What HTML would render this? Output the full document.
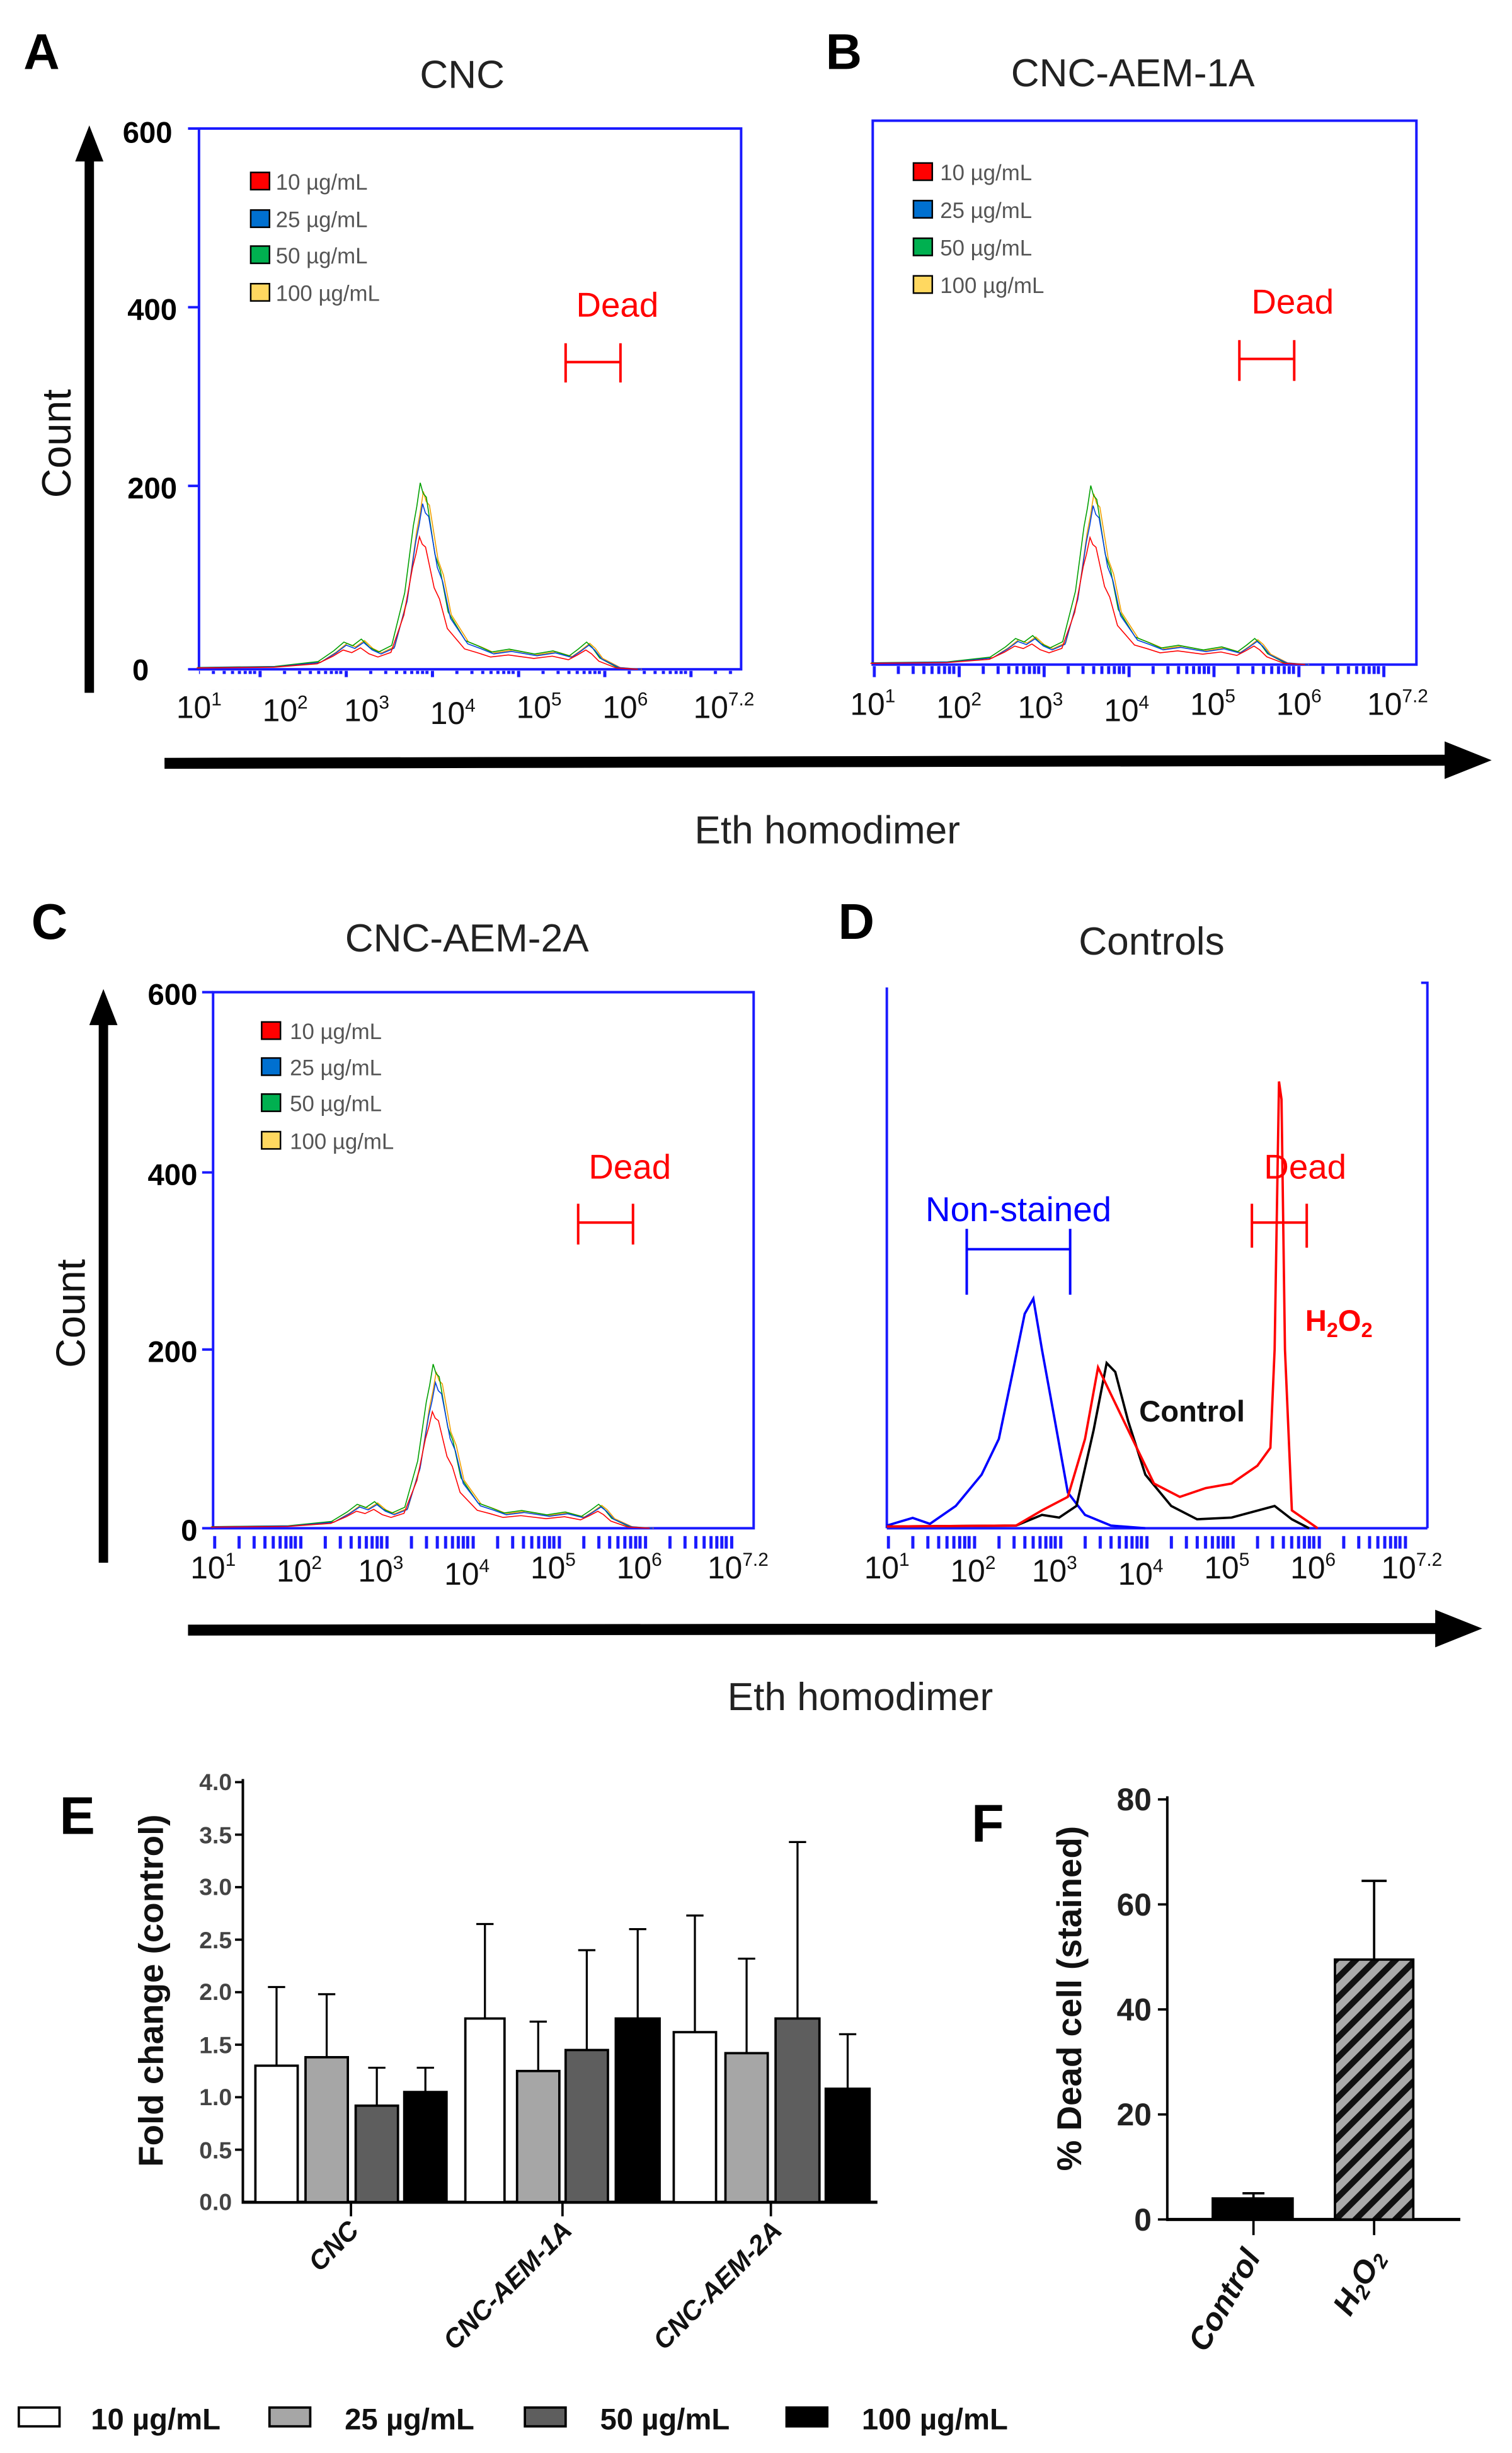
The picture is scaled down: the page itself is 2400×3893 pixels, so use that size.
<!DOCTYPE html>
<html><head><meta charset="utf-8"><style>
html,body{margin:0;padding:0;background:#fff;}
svg{display:block;}
text{font-family:"Liberation Sans",sans-serif;}
</style></head><body>
<svg width="2400" height="3893" viewBox="0 0 965 1565" preserveAspectRatio="none" xmlns="http://www.w3.org/2000/svg">
<defs>
<pattern id="tk" patternUnits="userSpaceOnUse" x="0" y="0" width="55" height="20">
<g stroke="#1a1aff" stroke-width="2">
<line x1="1" y1="0" x2="1" y2="12"/><line x1="16.6" y1="0" x2="16.6" y2="10"/><line x1="26.2" y1="0" x2="26.2" y2="10"/><line x1="33.1" y1="0" x2="33.1" y2="10"/><line x1="38.4" y1="0" x2="38.4" y2="10"/><line x1="42.8" y1="0" x2="42.8" y2="10"/><line x1="46.5" y1="0" x2="46.5" y2="10"/><line x1="49.7" y1="0" x2="49.7" y2="10"/><line x1="52.5" y1="0" x2="52.5" y2="10"/>
</g></pattern>
<pattern id="hatch" patternUnits="userSpaceOnUse" width="9" height="9" patternTransform="rotate(45)">
<rect width="9" height="9" fill="#aaa"/><rect width="4" height="9" fill="#111"/>
</pattern>
<path id="hist" transform="translate(-6,0)" d="M133,425.9 L182.3,425.3 L210,422.4 L220,416 L226.5,410.8 L232,413 L237.6,409 L243,414 L248.7,416.7 L257,412.8 L265.3,381.4 L270.8,341.5 L273,330 L275.2,315.8 L277,322 L279.1,324.4 L284.6,358.6 L288,368 L293,392.8 L304,409.9 L312,413 L320.6,416.7 L332,415 L348.2,417.9 L360,416 L370.3,419 L376,415 L381.4,410.8 L385,414 L389.7,420.2 L400.8,425.9 L414.6,427" fill="none" stroke-width="1.6" vector-effect="non-scaling-stroke"/>
<g id="series">
<g transform="translate(1,427) scale(1,1.02) translate(0,-427)"><use href="#hist" stroke="#f0a000"/></g>
<g transform="translate(-1,427) scale(1,1.07) translate(0,-427)"><use href="#hist" stroke="#00a000"/></g>
<g transform="translate(0.5,427) scale(1,0.95) translate(0,-427)"><use href="#hist" stroke="#0040e0"/></g>
<g transform="translate(-1.5,427) scale(1,0.76) translate(0,-427)"><use href="#hist" stroke="#ff0000"/></g>
</g>
</defs>

<!-- Panel A -->
<text x="15" y="44" font-size="32" font-weight="bold">A</text>
<text x="295" y="56" font-size="25" text-anchor="middle" fill="#222">CNC</text>
<rect x="127" y="82" width="346" height="345" fill="none" stroke="#1a1aff" stroke-width="1.6"/>
<g stroke="#1a1aff" stroke-width="1.6"><line x1="120" y1="82" x2="127" y2="82"/><line x1="120" y1="196" x2="127" y2="196"/><line x1="120" y1="310" x2="127" y2="310"/><line x1="120" y1="427" x2="127" y2="427"/></g>
<g font-size="19" font-weight="bold" text-anchor="end"><text x="110" y="91">600</text><text x="113" y="204">400</text><text x="113" y="318">200</text><text x="95" y="434">0</text></g>
<line x1="57" y1="442" x2="57" y2="100" stroke="#000" stroke-width="6"/>
<polygon points="57,80 48,103 66,103" fill="#000"/>
<text transform="translate(45,283) rotate(-90)" font-size="26" text-anchor="middle" fill="#111">Count</text>
<g font-size="14" fill="#555">
<rect x="160" y="110" width="12" height="11" fill="#f00" stroke="#000"/><text x="176" y="121">10 µg/mL</text>
<rect x="160" y="134" width="12" height="11" fill="#0070d0" stroke="#000"/><text x="176" y="145">25 µg/mL</text>
<rect x="160" y="157" width="12" height="11" fill="#00b050" stroke="#000"/><text x="176" y="168">50 µg/mL</text>
<rect x="160" y="181" width="12" height="11" fill="#ffd860" stroke="#000"/><text x="176" y="192">100 µg/mL</text>
</g>
<text x="394" y="202" font-size="22" fill="#f00" text-anchor="middle">Dead</text>
<g stroke="#f00" stroke-width="1.6"><line x1="361" y1="231" x2="396" y2="231"/><line x1="361" y1="219" x2="361" y2="244"/><line x1="396" y1="219" x2="396" y2="244"/></g>
<rect x="127" y="428" width="344" height="12" fill="url(#tk)"/>
<use href="#series"/>

<!-- Panel B -->
<text x="527" y="44" font-size="32" font-weight="bold">B</text>
<text x="723" y="55" font-size="25" text-anchor="middle" fill="#222">CNC-AEM-1A</text>
<rect x="557" y="77" width="347" height="347" fill="none" stroke="#1a1aff" stroke-width="1.6"/>
<g font-size="14" fill="#555">
<rect x="583" y="104" width="12" height="11" fill="#f00" stroke="#000"/><text x="600" y="115">10 µg/mL</text>
<rect x="583" y="128" width="12" height="11" fill="#0070d0" stroke="#000"/><text x="600" y="139">25 µg/mL</text>
<rect x="583" y="152" width="12" height="11" fill="#00b050" stroke="#000"/><text x="600" y="163">50 µg/mL</text>
<rect x="583" y="176" width="12" height="11" fill="#ffd860" stroke="#000"/><text x="600" y="187">100 µg/mL</text>
</g>
<text x="825" y="200" font-size="22" fill="#f00" text-anchor="middle">Dead</text>
<g stroke="#f00" stroke-width="1.6"><line x1="791" y1="229" x2="826" y2="229"/><line x1="791" y1="217" x2="791" y2="243"/><line x1="826" y1="217" x2="826" y2="243"/></g>
<g transform="translate(557,0)"><rect x="0" y="425" width="340" height="12" fill="url(#tk)" transform="scale(0.9855,1)"/></g>
<g transform="translate(557,424) scale(0.9855,0.96) translate(-127,-427)"><use href="#series"/></g>

<!-- x tick labels -->
<g font-size="20" fill="#111" text-anchor="middle">
<g id="xl">
<text x="127" y="458">10<tspan font-size="12" dy="-8">1</tspan></text>
<text x="182" y="460">10<tspan font-size="12" dy="-8">2</tspan></text>
<text x="234" y="460">10<tspan font-size="12" dy="-8">3</tspan></text>
<text x="289" y="462">10<tspan font-size="12" dy="-8">4</tspan></text>
<text x="344" y="458">10<tspan font-size="12" dy="-8">5</tspan></text>
<text x="399" y="458">10<tspan font-size="12" dy="-8">6</tspan></text>
<text x="462" y="458">10<tspan font-size="12" dy="-8">7.2</tspan></text>
</g>
<use href="#xl" transform="translate(430,-2)"/>
<use href="#xl" transform="translate(9,549)"/>
<use href="#xl" transform="translate(439,549)"/>
</g>

<line x1="105" y1="487" x2="925" y2="485" stroke="#000" stroke-width="7"/>
<polygon points="952,485 922,473 922,497" fill="#000"/>
<text x="528" y="538" font-size="25" text-anchor="middle" fill="#222">Eth homodimer</text>

<!-- Panel C -->
<text x="20" y="599" font-size="32" font-weight="bold">C</text>
<text x="298" y="607" font-size="25" text-anchor="middle" fill="#222">CNC-AEM-2A</text>
<rect x="136" y="633" width="345" height="342" fill="none" stroke="#1a1aff" stroke-width="1.6"/>
<g stroke="#1a1aff" stroke-width="1.6"><line x1="129" y1="633" x2="136" y2="633"/><line x1="129" y1="748" x2="136" y2="748"/><line x1="129" y1="861" x2="136" y2="861"/><line x1="129" y1="975" x2="136" y2="975"/></g>
<g font-size="19" font-weight="bold" text-anchor="end"><text x="126" y="641">600</text><text x="126" y="756">400</text><text x="126" y="869">200</text><text x="126" y="983">0</text></g>
<line x1="66" y1="997" x2="66" y2="652" stroke="#000" stroke-width="6"/>
<polygon points="66,631 57,654 75,654" fill="#000"/>
<text transform="translate(54,838) rotate(-90)" font-size="26" text-anchor="middle" fill="#111">Count</text>
<g font-size="14" fill="#555">
<rect x="167" y="652" width="12" height="11" fill="#f00" stroke="#000"/><text x="185" y="663">10 µg/mL</text>
<rect x="167" y="675" width="12" height="11" fill="#0070d0" stroke="#000"/><text x="185" y="686">25 µg/mL</text>
<rect x="167" y="698" width="12" height="11" fill="#00b050" stroke="#000"/><text x="185" y="709">50 µg/mL</text>
<rect x="167" y="722" width="12" height="11" fill="#ffd860" stroke="#000"/><text x="185" y="733">100 µg/mL</text>
</g>
<text x="402" y="752" font-size="22" fill="#f00" text-anchor="middle">Dead</text>
<g stroke="#f00" stroke-width="1.6"><line x1="369" y1="780" x2="404" y2="780"/><line x1="369" y1="768" x2="369" y2="794"/><line x1="404" y1="768" x2="404" y2="794"/></g>
<g transform="translate(136,0)"><rect x="0" y="976" width="344" height="12" fill="url(#tk)"/></g>
<g transform="translate(136,975) scale(0.9946,0.88) translate(-127,-427)"><use href="#series"/></g>

<!-- Panel D -->
<text x="535" y="599" font-size="32" font-weight="bold">D</text>
<text x="735" y="609" font-size="25" text-anchor="middle" fill="#222">Controls</text>
<g stroke="#1a1aff" stroke-width="1.6" fill="none"><line x1="566" y1="630" x2="566" y2="975"/><polyline points="907,627 911,627 911,975"/><line x1="566" y1="975" x2="911" y2="975"/></g>
<g transform="translate(566,0)"><rect x="0" y="976" width="344" height="12" fill="url(#tk)"/></g>
<polyline fill="none" stroke="#0000ff" stroke-width="1.5" points="566,973.3 582.5,968.4 593.5,972.2 610,960.8 626.5,940.8 637.5,918 645.8,878.1 654,838.2 659.5,828.5 665,861 673.3,906.6 681.5,952.2 692.5,966.5 709,973.3 731,975"/>
<polyline fill="none" stroke="#000" stroke-width="1.5" points="566,973.9 648.5,973.3 665,966.5 676,968.2 687,960.8 698,912.3 706.3,869.6 711.8,875.3 720,906.6 731,940.8 747.5,960.8 764,969.3 786,968.2 813.5,960.8 824.5,969.3 835.5,975"/>
<polyline fill="none" stroke="#f00" stroke-width="1.5" points="566,973.9 648.5,973.3 665,963.6 681.5,955 692.5,918 700.8,872.4 709,889.5 720,912.3 736.5,946.5 753,955 769.5,949.4 786,946.5 802.5,935.1 810.8,923.7 813.5,861 816.3,690 817.9,701.4 820.1,861 824.5,963.6 841,975"/>
<text x="650" y="779" font-size="22" fill="#0000ff" text-anchor="middle">Non-stained</text>
<g stroke="#0000ff" stroke-width="1.6"><line x1="617" y1="797" x2="683" y2="797"/><line x1="617" y1="784" x2="617" y2="826"/><line x1="683" y1="784" x2="683" y2="826"/></g>
<text x="833" y="752" font-size="22" fill="#f00" text-anchor="middle">Dead</text>
<g stroke="#f00" stroke-width="1.6"><line x1="799" y1="780" x2="834" y2="780"/><line x1="799" y1="768" x2="799" y2="796"/><line x1="834" y1="768" x2="834" y2="796"/></g>
<text x="833" y="849" font-size="19" font-weight="bold" fill="#f00">H<tspan font-size="13" dy="4">2</tspan><tspan dy="-4">O</tspan><tspan font-size="13" dy="4">2</tspan></text>
<text x="727" y="907" font-size="19" font-weight="bold" fill="#111">Control</text>

<line x1="120" y1="1040" x2="920" y2="1039" stroke="#000" stroke-width="7"/>
<polygon points="946,1039 916,1027 916,1051" fill="#000"/>
<text x="549" y="1091" font-size="25" text-anchor="middle" fill="#222">Eth homodimer</text>

<!-- Panel E -->
<text x="38" y="1170" font-size="34" font-weight="bold">E</text>
<text transform="translate(104,1270) rotate(-90)" font-size="22" font-weight="bold" text-anchor="middle" fill="#111">Fold  change (control)</text>
<line x1="155" y1="1135" x2="155" y2="1406" stroke="#000" stroke-width="1.6"/>
<line x1="155" y1="1405" x2="560" y2="1405" stroke="#000" stroke-width="2"/>
<g stroke="#000" stroke-width="1.5">
<line x1="150" y1="1137" x2="155" y2="1137"/><line x1="150" y1="1170.5" x2="155" y2="1170.5"/><line x1="150" y1="1204" x2="155" y2="1204"/><line x1="150" y1="1237.5" x2="155" y2="1237.5"/><line x1="150" y1="1271" x2="155" y2="1271"/><line x1="150" y1="1304.5" x2="155" y2="1304.5"/><line x1="150" y1="1338" x2="155" y2="1338"/><line x1="150" y1="1371.5" x2="155" y2="1371.5"/>
<line x1="224" y1="1405" x2="224" y2="1414"/><line x1="359" y1="1405" x2="359" y2="1414"/><line x1="492" y1="1405" x2="492" y2="1414"/>
</g>
<g font-size="15" font-weight="bold" fill="#444" text-anchor="end">
<text x="148" y="1142">4.0</text><text x="148" y="1176">3.5</text><text x="148" y="1209">3.0</text><text x="148" y="1243">2.5</text><text x="148" y="1276">2.0</text><text x="148" y="1310">1.5</text><text x="148" y="1343">1.0</text><text x="148" y="1377">0.5</text><text x="148" y="1410">0.0</text>
</g>
<g stroke="#000" stroke-width="1.3">
<line x1="176.5" y1="1317.9" x2="176.5" y2="1267.7"/><line x1="171" y1="1267.7" x2="182" y2="1267.7"/>
<line x1="208.5" y1="1312.5" x2="208.5" y2="1272.3"/><line x1="203" y1="1272.3" x2="214" y2="1272.3"/>
<line x1="240.5" y1="1343.4" x2="240.5" y2="1319.2"/><line x1="235" y1="1319.2" x2="246" y2="1319.2"/>
<line x1="271.5" y1="1334.7" x2="271.5" y2="1319.2"/><line x1="266" y1="1319.2" x2="277" y2="1319.2"/>
<line x1="309.5" y1="1287.8" x2="309.5" y2="1227.5"/><line x1="304" y1="1227.5" x2="315" y2="1227.5"/>
<line x1="343.5" y1="1321.3" x2="343.5" y2="1289.8"/><line x1="338" y1="1289.8" x2="349" y2="1289.8"/>
<line x1="374.5" y1="1307.9" x2="374.5" y2="1244.2"/><line x1="369" y1="1244.2" x2="380" y2="1244.2"/>
<line x1="407" y1="1287.8" x2="407" y2="1230.8"/><line x1="401.5" y1="1230.8" x2="412.5" y2="1230.8"/>
<line x1="443.5" y1="1296.5" x2="443.5" y2="1222.1"/><line x1="438" y1="1222.1" x2="449" y2="1222.1"/>
<line x1="476.5" y1="1309.9" x2="476.5" y2="1249.6"/><line x1="471" y1="1249.6" x2="482" y2="1249.6"/>
<line x1="509" y1="1287.8" x2="509" y2="1175.2"/><line x1="503.5" y1="1175.2" x2="514.5" y2="1175.2"/>
<line x1="541" y1="1332.6" x2="541" y2="1297.8"/><line x1="535.5" y1="1297.8" x2="546.5" y2="1297.8"/>
</g>
<g stroke="#000" stroke-width="1.5">
<rect x="163" y="1317.9" width="27" height="87.1" fill="#fff"/>
<rect x="195" y="1312.5" width="27" height="92.5" fill="#a6a6a6"/>
<rect x="227" y="1343.4" width="27" height="61.6" fill="#5e5e5e"/>
<rect x="258" y="1334.7" width="27" height="70.3" fill="#000"/>
<rect x="297" y="1287.8" width="25" height="117.2" fill="#fff"/>
<rect x="330" y="1321.3" width="27" height="83.7" fill="#a6a6a6"/>
<rect x="361" y="1307.9" width="27" height="97.1" fill="#5e5e5e"/>
<rect x="393" y="1287.8" width="28" height="117.2" fill="#000"/>
<rect x="430" y="1296.5" width="27" height="108.5" fill="#fff"/>
<rect x="463" y="1309.9" width="27" height="95.1" fill="#a6a6a6"/>
<rect x="495" y="1287.8" width="28" height="117.2" fill="#5e5e5e"/>
<rect x="527" y="1332.6" width="28" height="72.4" fill="#000"/>
</g>
<g font-size="17" font-weight="bold" font-style="italic" fill="#111" text-anchor="end">
<text transform="translate(230,1424) rotate(-45)">CNC</text>
<text transform="translate(366,1424) rotate(-45)">CNC-AEM-1A</text>
<text transform="translate(500,1424) rotate(-45)">CNC-AEM-2A</text>
</g>
<g stroke="#000" stroke-width="1.5">
<rect x="12" y="1536" width="26" height="12" fill="#fff"/>
<rect x="172" y="1536" width="26" height="12" fill="#a6a6a6"/>
<rect x="335" y="1536" width="26" height="12" fill="#5e5e5e"/>
<rect x="502" y="1536" width="26" height="12" fill="#000"/>
</g>
<g font-size="19" font-weight="bold" fill="#111">
<text x="58" y="1550">10 µg/mL</text><text x="220" y="1550">25 µg/mL</text><text x="383" y="1550">50 µg/mL</text><text x="550" y="1550">100 µg/mL</text>
</g>

<!-- Panel F -->
<text x="620" y="1175" font-size="34" font-weight="bold">F</text>
<text transform="translate(690,1275) rotate(-90)" font-size="22" font-weight="bold" text-anchor="middle" fill="#111">% Dead cell (stained)</text>
<line x1="745" y1="1146" x2="745" y2="1417" stroke="#000" stroke-width="1.6"/>
<line x1="745" y1="1416" x2="932" y2="1416" stroke="#000" stroke-width="2"/>
<g stroke="#000" stroke-width="1.5">
<line x1="739" y1="1148" x2="745" y2="1148"/><line x1="739" y1="1215" x2="745" y2="1215"/><line x1="739" y1="1282" x2="745" y2="1282"/><line x1="739" y1="1349" x2="745" y2="1349"/><line x1="739" y1="1416" x2="745" y2="1416"/>
<line x1="800" y1="1416" x2="800" y2="1426"/><line x1="877" y1="1416" x2="877" y2="1426"/>
</g>
<g font-size="20" font-weight="bold" fill="#222" text-anchor="end">
<text x="735" y="1155">80</text><text x="735" y="1222">60</text><text x="735" y="1289">40</text><text x="735" y="1356">20</text><text x="735" y="1423">0</text>
</g>
<g stroke="#000" stroke-width="1.5">
<line x1="800" y1="1402" x2="800" y2="1399"/><line x1="793" y1="1399.3" x2="807" y2="1399.3"/>
<line x1="877" y1="1250" x2="877" y2="1200"/><line x1="869" y1="1200" x2="885" y2="1200"/>
<rect x="774" y="1402.6" width="51" height="13.4" fill="#000"/>
<rect x="852" y="1250.2" width="50" height="165.8" fill="url(#hatch)"/>
</g>
<g font-size="20" font-weight="bold" font-style="italic" fill="#111" text-anchor="end">
<text transform="translate(805,1440) rotate(-60)">Control</text>
<text transform="translate(884,1440) rotate(-60)">H<tspan font-size="13" dy="3">2</tspan><tspan dy="-3">O</tspan><tspan font-size="13" dy="3">2</tspan></text>
</g>
</svg>
</body></html>
